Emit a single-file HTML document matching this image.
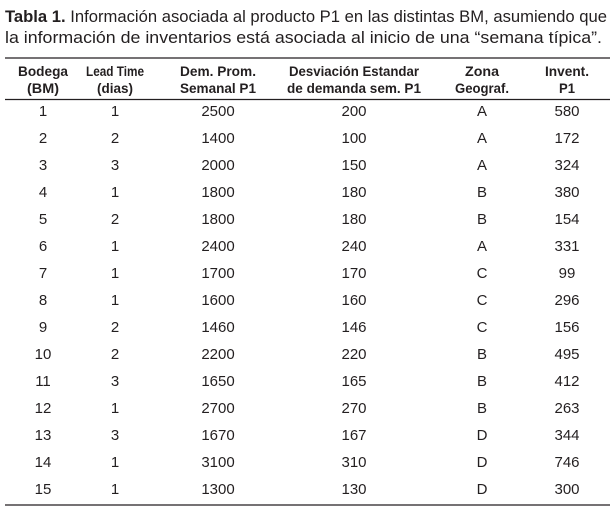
<!DOCTYPE html>
<html><head><meta charset="utf-8"><style>
html,body{margin:0;padding:0;background:#fff;}
svg{display:block}
text{font-family:"Liberation Sans",Arial,sans-serif;fill:#231f20}
.h{font-weight:bold;font-size:14px}
</style></head><body>
<svg width="614" height="511" viewBox="0 0 614 511" xmlns="http://www.w3.org/2000/svg">
<text x="5" y="22" font-size="17" textLength="602" lengthAdjust="spacingAndGlyphs"><tspan font-weight="bold">Tabla 1.</tspan> Información asociada al producto P1 en las distintas BM, asumiendo que</text>
<text x="5" y="43" font-size="17" textLength="597" lengthAdjust="spacingAndGlyphs">la información de inventarios está asociada al inicio de una “semana típica”.</text>
<line x1="5" y1="58" x2="610" y2="58" stroke="#231f20" stroke-width="1.3"/>
<line x1="5" y1="99.5" x2="610" y2="99.5" stroke="#231f20" stroke-width="1.3"/>
<line x1="5" y1="505" x2="610" y2="505" stroke="#231f20" stroke-width="1.3"/>
<g text-anchor="middle">
<text x="43" y="76" class="h" textLength="50" lengthAdjust="spacingAndGlyphs">Bodega</text>
<text x="43" y="93" class="h" textLength="32" lengthAdjust="spacingAndGlyphs">(BM)</text>
<text x="115" y="76" class="h" textLength="58" lengthAdjust="spacingAndGlyphs">Lead Time</text>
<text x="115" y="93" class="h" textLength="36" lengthAdjust="spacingAndGlyphs">(dias)</text>
<text x="218" y="76" class="h" textLength="76" lengthAdjust="spacingAndGlyphs">Dem. Prom.</text>
<text x="218" y="93" class="h" textLength="76" lengthAdjust="spacingAndGlyphs">Semanal P1</text>
<text x="354" y="76" class="h" textLength="130" lengthAdjust="spacingAndGlyphs">Desviación Estandar</text>
<text x="354" y="93" class="h" textLength="134" lengthAdjust="spacingAndGlyphs">de demanda  sem. P1</text>
<text x="482" y="76" class="h" textLength="34" lengthAdjust="spacingAndGlyphs">Zona</text>
<text x="482" y="93" class="h" textLength="54" lengthAdjust="spacingAndGlyphs">Geograf.</text>
<text x="567" y="76" class="h" textLength="44" lengthAdjust="spacingAndGlyphs">Invent.</text>
<text x="567" y="93" class="h" textLength="16" lengthAdjust="spacingAndGlyphs">P1</text>
</g>
<g font-size="15" text-anchor="middle">
<text x="43" y="116">1</text><text x="115" y="116">1</text><text x="218" y="116">2500</text><text x="354" y="116">200</text><text x="482" y="116">A</text><text x="567" y="116">580</text>
<text x="43" y="143">2</text><text x="115" y="143">2</text><text x="218" y="143">1400</text><text x="354" y="143">100</text><text x="482" y="143">A</text><text x="567" y="143">172</text>
<text x="43" y="170">3</text><text x="115" y="170">3</text><text x="218" y="170">2000</text><text x="354" y="170">150</text><text x="482" y="170">A</text><text x="567" y="170">324</text>
<text x="43" y="197">4</text><text x="115" y="197">1</text><text x="218" y="197">1800</text><text x="354" y="197">180</text><text x="482" y="197">B</text><text x="567" y="197">380</text>
<text x="43" y="224">5</text><text x="115" y="224">2</text><text x="218" y="224">1800</text><text x="354" y="224">180</text><text x="482" y="224">B</text><text x="567" y="224">154</text>
<text x="43" y="251">6</text><text x="115" y="251">1</text><text x="218" y="251">2400</text><text x="354" y="251">240</text><text x="482" y="251">A</text><text x="567" y="251">331</text>
<text x="43" y="278">7</text><text x="115" y="278">1</text><text x="218" y="278">1700</text><text x="354" y="278">170</text><text x="482" y="278">C</text><text x="567" y="278">99</text>
<text x="43" y="305">8</text><text x="115" y="305">1</text><text x="218" y="305">1600</text><text x="354" y="305">160</text><text x="482" y="305">C</text><text x="567" y="305">296</text>
<text x="43" y="332">9</text><text x="115" y="332">2</text><text x="218" y="332">1460</text><text x="354" y="332">146</text><text x="482" y="332">C</text><text x="567" y="332">156</text>
<text x="43" y="359">10</text><text x="115" y="359">2</text><text x="218" y="359">2200</text><text x="354" y="359">220</text><text x="482" y="359">B</text><text x="567" y="359">495</text>
<text x="43" y="386">11</text><text x="115" y="386">3</text><text x="218" y="386">1650</text><text x="354" y="386">165</text><text x="482" y="386">B</text><text x="567" y="386">412</text>
<text x="43" y="413">12</text><text x="115" y="413">1</text><text x="218" y="413">2700</text><text x="354" y="413">270</text><text x="482" y="413">B</text><text x="567" y="413">263</text>
<text x="43" y="440">13</text><text x="115" y="440">3</text><text x="218" y="440">1670</text><text x="354" y="440">167</text><text x="482" y="440">D</text><text x="567" y="440">344</text>
<text x="43" y="467">14</text><text x="115" y="467">1</text><text x="218" y="467">3100</text><text x="354" y="467">310</text><text x="482" y="467">D</text><text x="567" y="467">746</text>
<text x="43" y="494">15</text><text x="115" y="494">1</text><text x="218" y="494">1300</text><text x="354" y="494">130</text><text x="482" y="494">D</text><text x="567" y="494">300</text>
</g>
</svg>
</body></html>
